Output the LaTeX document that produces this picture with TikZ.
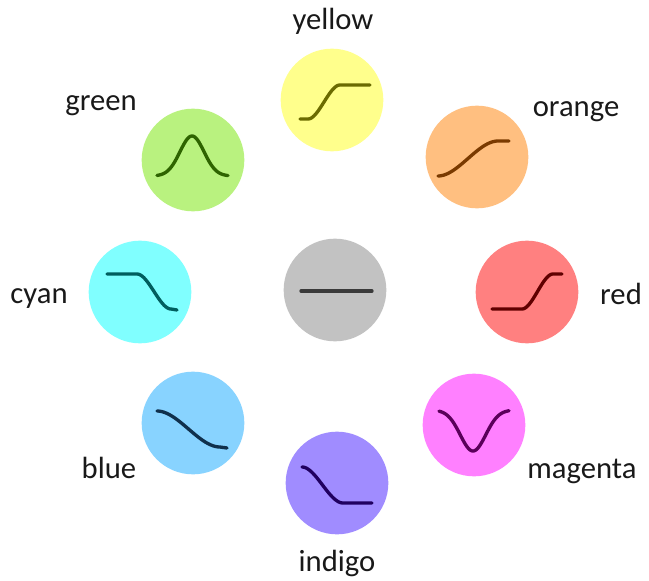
\documentclass[tikz,border=0pt]{standalone}
\usepackage{fontspec}
\setmainfont{Carlito}
\begin{document}
\begin{tikzpicture}[x=0.75pt,y=-0.75pt,
  disc/.style={circle,draw=none,minimum size=77pt,inner sep=0pt},
  lbl/.style={anchor=base,font=\fontsize{23}{27}\selectfont,text=black!90},
  resp/.style={line width=2.5pt,line join=round,line cap=round}]
\useasboundingbox (0,0) rectangle (649,581);

% colours of the discs and of their response curves
\definecolor{fYellow}{HTML}{FFFF8C}\definecolor{cYellow}{HTML}{6B6B00}
\definecolor{fGreen}{HTML}{B9F27F}\definecolor{cGreen}{HTML}{2E6400}
\definecolor{fOrange}{HTML}{FFBF80}\definecolor{cOrange}{HTML}{7A3A00}
\definecolor{fCyan}{HTML}{80FFFF}\definecolor{cCyan}{HTML}{005E5E}
\definecolor{fRed}{HTML}{FF8080}\definecolor{cRed}{HTML}{600000}
\definecolor{fGray}{HTML}{C2C2C2}\definecolor{cGray}{HTML}{3A3A3A}
\definecolor{fBlue}{HTML}{88D3FF}\definecolor{cBlue}{HTML}{10304C}
\definecolor{fMagenta}{HTML}{FF80FF}\definecolor{cMagenta}{HTML}{5A005A}
\definecolor{fIndigo}{HTML}{A08CFF}\definecolor{cIndigo}{HTML}{200060}

% discs
\node[disc,fill=fYellow]  (yellow)  at (332,100) {};
\node[disc,fill=fGreen]   (green)   at (193,160) {};
\node[disc,fill=fOrange]  (orange)  at (477,157) {};
\node[disc,fill=fCyan]    (cyan)    at (140,292) {};
\node[disc,fill=fGray]    (gray)    at (335,290) {};
\node[disc,fill=fRed]     (red)     at (527,292) {};
\node[disc,fill=fBlue]    (blue)    at (193,423) {};
\node[disc,fill=fMagenta] (magenta) at (474,425) {};
\node[disc,fill=fIndigo]  (indigo)  at (337,483) {};

% response curves, in coordinates relative to each disc centre
\draw[resp,cYellow,shift={(yellow.center)}] (-32,19) -- (-24,19)
  -- plot[domain=0:1,samples=40,smooth] ({-24+32*\x},{19-34*(3*\x*\x-2*\x*\x*\x)})
  -- (38,-15);
\draw[resp,cGreen,shift={(green.center)}]
  plot[domain=-36:35,samples=60,smooth] (\x,{16-40*exp(-((\x+1)/17)^2)});
\draw[resp,cOrange,shift={(orange.center)}]
  plot[domain=0:1,samples=40,smooth] ({-39+60*\x},{19-35*(3*\x*\x-2*\x*\x*\x)})
  -- (32,-16);
\draw[resp,cCyan,shift={(cyan.center)}] (-33,-18) -- (-3,-18)
  -- plot[domain=0:1,samples=40,smooth] ({-3+34*\x},{-18+35*(3*\x*\x-2*\x*\x*\x)})
  -- (37,18);
\draw[resp,cGray,shift={(gray.center)}] (-34,1) -- (37,1);
\draw[resp,cRed,shift={(red.center)}] (-35,17) -- (-5,17)
  -- plot[domain=0:1,samples=40,smooth] ({-5+31*\x},{17-35*(3*\x*\x-2*\x*\x*\x)})
  -- (35,-18);
\draw[resp,cBlue,shift={(blue.center)}]
  plot[domain=0:1,samples=40,smooth] ({-36+63*\x},{-12+36*(3*\x*\x-2*\x*\x*\x)})
  -- (34,25);
\draw[resp,cMagenta,shift={(magenta.center)}]
  plot[domain=-35:35,samples=60,smooth] (\x,{-15+41*exp(-((\x+1)/18)^2)});
\draw[resp,cIndigo,shift={(indigo.center)}] (-35,-16)
  -- plot[domain=0:1,samples=40,smooth] ({-35+41*\x},{-16+36*(3*\x*\x-2*\x*\x*\x)})
  -- (35,20);

% labels
\node[lbl] (tYellow)  at (333,30)  {yellow};
\node[lbl] (tGreen)   at (101,111) {green};
\node[lbl] (tOrange)  at (576,117) {orange};
\node[lbl] (tCyan)    at (39,303)  {cyan};
\node[lbl] (tRed)     at (621,304) {red};
\node[lbl] (tBlue)    at (109,478) {blue};
\node[lbl] (tMagenta) at (582,478) {magenta};
\node[lbl] (tIndigo)  at (337,571) {indigo};
\end{tikzpicture}
\end{document}
